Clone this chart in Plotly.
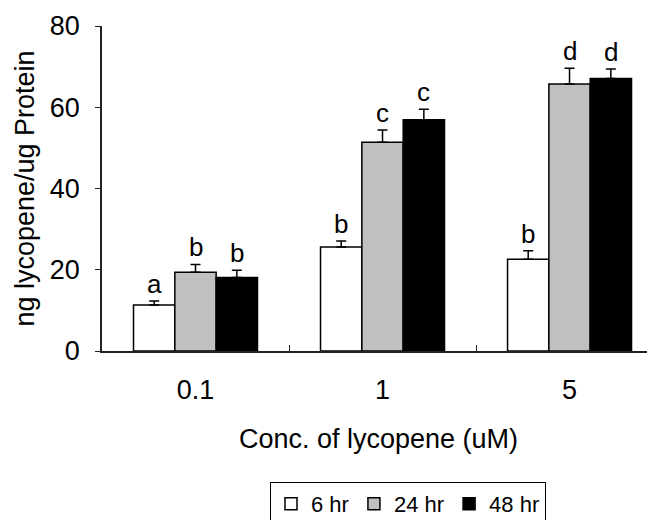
import plotly.graph_objects as go

categories = ["0.1", "1", "5"]
series_names = ["6 hr", "24 hr", "48 hr"]
vals_6hr = [11.3, 25.6, 22.6]
vals_24hr = [19.4, 51.4, 65.7]
vals_48hr = [18.1, 56.9, 67.1]
err_6hr = [1.0, 1.5, 2.1]
err_24hr = [1.9, 3.0, 3.9]
err_48hr = [1.8, 2.6, 2.3]
letters_6hr = ["a", "b", "b"]
letters_24hr = ["b", "c", "d"]
letters_48hr = ["b", "c", "d"]
y_ticks = [0, 20, 40, 60, 80]

FONT = "Liberation Sans, Arial, Helvetica, sans-serif"
colors = ["#ffffff", "#c0c0c0", "#000000"]
values = [vals_6hr, vals_24hr, vals_48hr]
errors = [err_6hr, err_24hr, err_48hr]
letters = [letters_6hr, letters_24hr, letters_48hr]
bargap = 0.337

fig = go.Figure()
for name, v, e, c in zip(series_names, values, errors, colors):
    fig.add_trace(go.Bar(
        name=name, x=categories, y=v,
        marker=dict(color=c, line=dict(color="#000000", width=1.5)),
        error_y=dict(type="data", symmetric=False, array=e, arrayminus=[0] * len(e),
                     color="#000000", thickness=1.5, width=5),
    ))

bw = (1 - bargap) / len(series_names)
annotations = []
for j, (v, e, L) in enumerate(zip(values, errors, letters)):
    for i in range(len(categories)):
        annotations.append(dict(
            x=i + (j - 1) * bw, y=v[i] + e[i], xref="x", yref="y",
            text=L[i], showarrow=False, yanchor="bottom", yshift=0,
            font=dict(family=FONT, size=26, color="#000000"),
        ))

# page body adds an 8px margin, so the figure is 8px smaller than the window
fig.update_layout(
    width=647, height=512,
    margin=dict(l=94, r=0, t=18, b=169, autoexpand=False),
    paper_bgcolor="white", plot_bgcolor="white",
    barmode="group", bargap=bargap, bargroupgap=0,
    font=dict(family=FONT, size=26, color="#000000"),
    showlegend=True,
    legend=dict(orientation="h", xref="paper", yref="paper",
                x=(408 - 102) / 553, xanchor="center", y=(351 - 482) / 325, yanchor="top",
                bordercolor="#000000", borderwidth=1,
                font=dict(family=FONT, size=22, color="#000000"),
                itemwidth=30, traceorder="normal"),
    annotations=annotations,
    xaxis=dict(range=[-0.5, 2.457], showline=True, linecolor="#222222", linewidth=1.5,
               ticks="inside", tickson="boundaries", ticklen=6, tickcolor="#222222",
               tickfont=dict(family=FONT, size=27), ticklabelstandoff=14,
               showgrid=False, zeroline=False, automargin=False,
               title=dict(text="Conc. of lycopene (uM)", font=dict(family=FONT, size=27),
                          standoff=25)),
    yaxis=dict(range=[0, 80], tickvals=y_ticks, showline=True, linecolor="#222222",
               linewidth=1.5, ticks="outside", ticklen=5, tickcolor="#222222",
               tickfont=dict(family=FONT, size=27), ticklabelstandoff=10,
               showgrid=False, zeroline=False, automargin=False,
               title=dict(text="ng lycopene/ug Protein", font=dict(family=FONT, size=27),
                          standoff=7)),
)

fig.write_html("out.html")
